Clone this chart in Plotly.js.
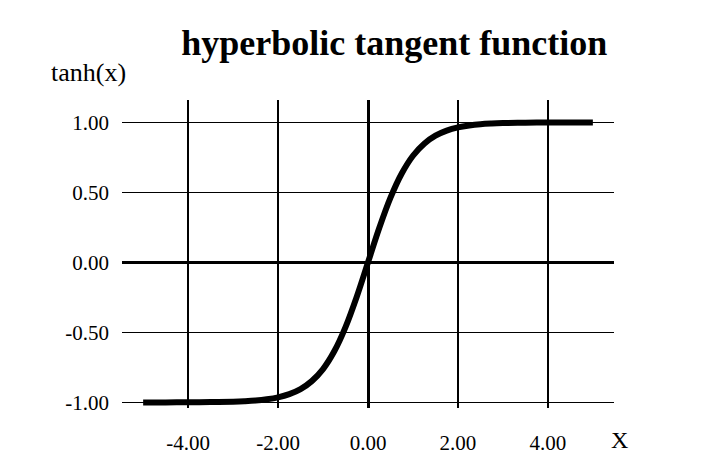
<!DOCTYPE html>
<html>
<head>
<meta charset="utf-8">
<script src="https://cdn.plot.ly/plotly-3.0.1.min.js"></script>
<style>body{margin:0;background:#fff}</style>
</head>
<body>
<div id="chart" style="width:704px;height:467px"></div>
<script>
// values
var xValues = [-5, -4.5, -4, -3.5, -3, -2.75, -2.5, -2.25, -2, -1.75, -1.5, -1.25, -1, -0.75, -0.5, -0.25,
  0, 0.25, 0.5, 0.75, 1, 1.25, 1.5, 1.75, 2, 2.25, 2.5, 2.75, 3, 3.5, 4, 4.5, 5];
var yValues = [-1.000, -1.000, -0.999, -0.998, -0.995, -0.992, -0.987, -0.978, -0.964, -0.941, -0.905, -0.848, -0.762, -0.635, -0.462, -0.245,
  0, 0.245, 0.462, 0.635, 0.762, 0.848, 0.905, 0.941, 0.964, 0.978, 0.987, 0.992, 0.995, 0.998, 0.999, 1.000, 1.000];
var xTicks = [-4, -2, 0, 2, 4];
var xTickText = ["-4.00", "-2.00", "0.00", "2.00", "4.00"];
var yTicks = [-1, -0.5, 0, 0.5, 1];
var yTickText = ["-1.00", "-0.50", "0.00", "0.50", "1.00"];

var data = [{
  x: xValues, y: yValues, type: "scatter", mode: "lines",
  line: { color: "#000", width: 6, shape: "spline" },
  hoverinfo: "skip"
}];

var font = { family: "Liberation Serif, Times New Roman, serif", color: "#000", size: 21 };

var layout = {
  width: 704, height: 467,
  margin: { l: 122, r: 90, t: 100, b: 59 },
  paper_bgcolor: "#fff", plot_bgcolor: "#fff",
  showlegend: false,
  font: font,
  title: { text: "<b>hyperbolic tangent function</b>", x: 0.56, xanchor: "center", y: 0.91, yanchor: "middle",
    font: { family: font.family, size: 36, color: "#000" } },
  xaxis: {
    range: [-5.47, 5.47], tickvals: xTicks, ticktext: xTickText,
    showgrid: true, gridcolor: "#000", gridwidth: 1.5,
    zeroline: true, zerolinecolor: "#000", zerolinewidth: 3,
    showline: false, ticks: "", ticklabelstandoff: 20, tickfont: font
  },
  yaxis: {
    range: [-1.04, 1.16], tickvals: yTicks, ticktext: yTickText,
    showgrid: true, gridcolor: "#000", gridwidth: 1.5,
    zeroline: true, zerolinecolor: "#000", zerolinewidth: 3,
    showline: false, ticks: "", ticklabelstandoff: 12, tickfont: font
  },
  annotations: [
    { text: "tanh(x)", xref: "paper", yref: "paper", x: 0.012, y: 1.09, xanchor: "right", yanchor: "middle",
      showarrow: false, font: { family: font.family, size: 26, color: "#000" } },
    { text: "X", xref: "paper", yref: "paper", x: 0.99, y: -0.105, xanchor: "left", yanchor: "middle",
      showarrow: false, font: { family: font.family, size: 24, color: "#000" } }
  ]
};

Plotly.newPlot("chart", data, layout, { displayModeBar: false, staticPlot: true });
</script>
</body>
</html>
